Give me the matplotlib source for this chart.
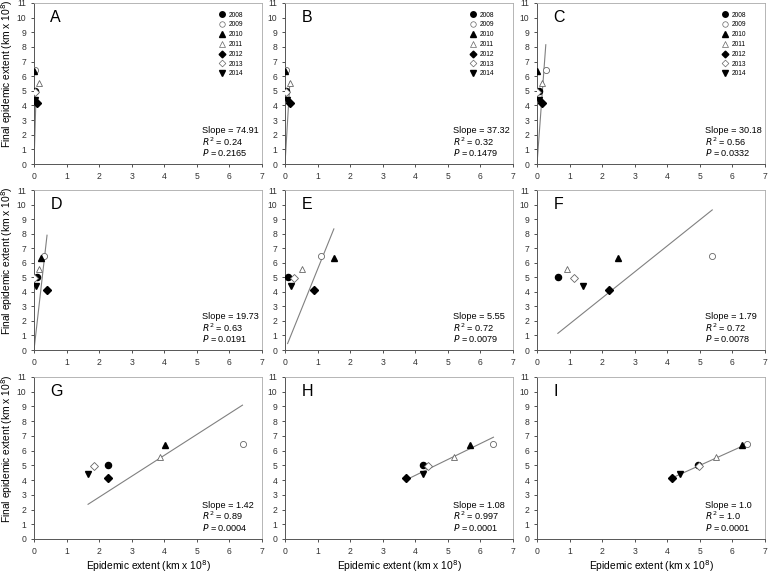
import matplotlib
matplotlib.use("Agg")
import matplotlib.pyplot as plt
from matplotlib.lines import Line2D

plt.rcParams['font.family'] = ['Liberation Sans Narrow', 'Liberation Sans', 'DejaVu Sans']
plt.rcParams['mathtext.fontset'] = 'custom'
plt.rcParams['mathtext.rm'] = 'Liberation Sans Narrow'
plt.rcParams['mathtext.it'] = 'Liberation Sans Narrow:italic'

years = ["2008", "2009", "2010", "2011", "2012", "2013", "2014"]
final_extent = [5.0, 6.45, 6.35, 5.55, 4.15, 4.95, 4.4]

panel_labels = ["A", "B", "C", "D", "E", "F", "G", "H", "I"]
epi_A = [0.02, 0.02, 0.01, 0.15, 0.10, 0.02, 0.03]
epi_B = [0.02, 0.02, 0.01, 0.15, 0.15, 0.02, 0.05]
epi_C = [0.07, 0.28, 0.00, 0.15, 0.15, 0.00, 0.05]
epi_D = [0.10, 0.32, 0.20, 0.15, 0.40, 0.00, 0.05]
epi_E = [0.10, 1.10, 1.50, 0.52, 0.88, 0.27, 0.18]
epi_F = [0.64, 5.38, 2.50, 0.92, 2.22, 1.13, 1.42]
epi_G = [2.26, 6.41, 4.02, 3.86, 2.26, 1.84, 1.66]
epi_H = [4.23, 6.40, 5.69, 5.20, 3.70, 4.39, 4.25]
epi_I = [4.95, 6.45, 6.30, 5.50, 4.15, 4.97, 4.40]
epi_all = [epi_A, epi_B, epi_C, epi_D, epi_E, epi_F, epi_G, epi_H, epi_I]

slopes = [74.91, 37.32, 30.18, 19.73, 5.55, 1.79, 1.42, 1.08, 1.0]
slope_txt = ["74.91", "37.32", "30.18", "19.73", "5.55", "1.79", "1.42", "1.08", "1.0"]
r2_txt = ["0.24", "0.32", "0.56", "0.63", "0.72", "0.72", "0.89", "0.997", "1.0"]
p_txt = ["0.2165", "0.1479", "0.0332", "0.0191", "0.0079", "0.0078", "0.0004", "0.0001", "0.0001"]
line_x0 = [0.0, 0.0, 0.0, 0.0, 0.08, 0.64, 1.66, 3.70, 4.15]
line_x1 = [0.06, 0.15, 0.27, 0.40, 1.50, 5.38, 6.40, 6.40, 6.45]

markers = ['o', 'o', '^', '^', 'D', 'D', 'v']
filled = [True, False, True, False, True, False, True]
msizes = [4.4, 4.4, 4.4, 4.4, 3.8, 3.8, 4.4]

fig = plt.figure(figsize=(7.71, 5.75), dpi=100)
W, H = 771, 575
lefts = [34, 285, 537]
tops = [3, 190, 377]
bottoms = [164, 350, 539]
aw = 228

for i in range(9):
    r, c = divmod(i, 3)
    ax = fig.add_axes([lefts[c] / W, 1 - bottoms[r] / H, aw / W, (bottoms[r] - tops[r]) / H])
    ax.set_xlim(0, 7)
    ax.set_ylim(0, 11)
    ax.set_xticks(range(8))
    ax.set_yticks(range(12))
    ax.tick_params(labelsize=6.2, length=2.5, width=0.6, colors='#333333', direction='out', pad=3)
    for s in ['top', 'right']:
        ax.spines[s].set_color('#aaaaaa')
        ax.spines[s].set_linewidth(0.6)
    for s in ['left', 'bottom']:
        ax.spines[s].set_color('#555555')
        ax.spines[s].set_linewidth(0.7)

    xs = epi_all[i]
    ax.plot([line_x0[i], line_x1[i]], [slopes[i] * line_x0[i], slopes[i] * line_x1[i]],
            color='#808080', lw=0.8, zorder=2)
    for k in range(len(years)):
        if filled[k]:
            ax.plot(xs[k], final_extent[k], marker=markers[k], ms=msizes[k], color='black',
                    ls='none', zorder=3)
        else:
            ax.plot(xs[k], final_extent[k], marker=markers[k], ms=msizes[k], mfc='white',
                    mec='#666666', mew=0.6, ls='none', zorder=3)

    ax.text(0.5, 10.0, panel_labels[i], fontsize=11.5, va='center', ha='left')
    tx = 5.15
    ax.text(tx, 2.3, "Slope = " + slope_txt[i], fontsize=6.6, va='center')
    ax.text(tx, 1.55, "$R^2$ = " + r2_txt[i], fontsize=6.6, va='center')
    ax.text(tx, 0.8, "$P$ = " + p_txt[i], fontsize=6.6, va='center')

    if r == 0:
        handles = []
        for k in range(len(years)):
            if filled[k]:
                h = Line2D([], [], marker=markers[k], ms=msizes[k] * 0.9, color='black', ls='none')
            else:
                h = Line2D([], [], marker=markers[k], ms=msizes[k] * 0.9, mfc='white',
                           mec='#666666', mew=0.5, ls='none')
            handles.append(h)
        ax.legend(handles, years, loc='upper left', bbox_to_anchor=(0.79, 0.975), frameon=False,
                  fontsize=4.8, handlelength=1.0, handletextpad=0.5, labelspacing=0.42,
                  borderpad=0.2)
    if c == 0:
        ax.set_ylabel("Final epidemic extent (km x 10$^8$)", fontsize=7.4)
        ax.yaxis.set_label_coords(-0.085, 0.56)
    if r == 2:
        ax.set_xlabel("Epidemic extent (km x 10$^8$)", fontsize=7.4, labelpad=2)

fig.savefig("out.png", dpi=100)
